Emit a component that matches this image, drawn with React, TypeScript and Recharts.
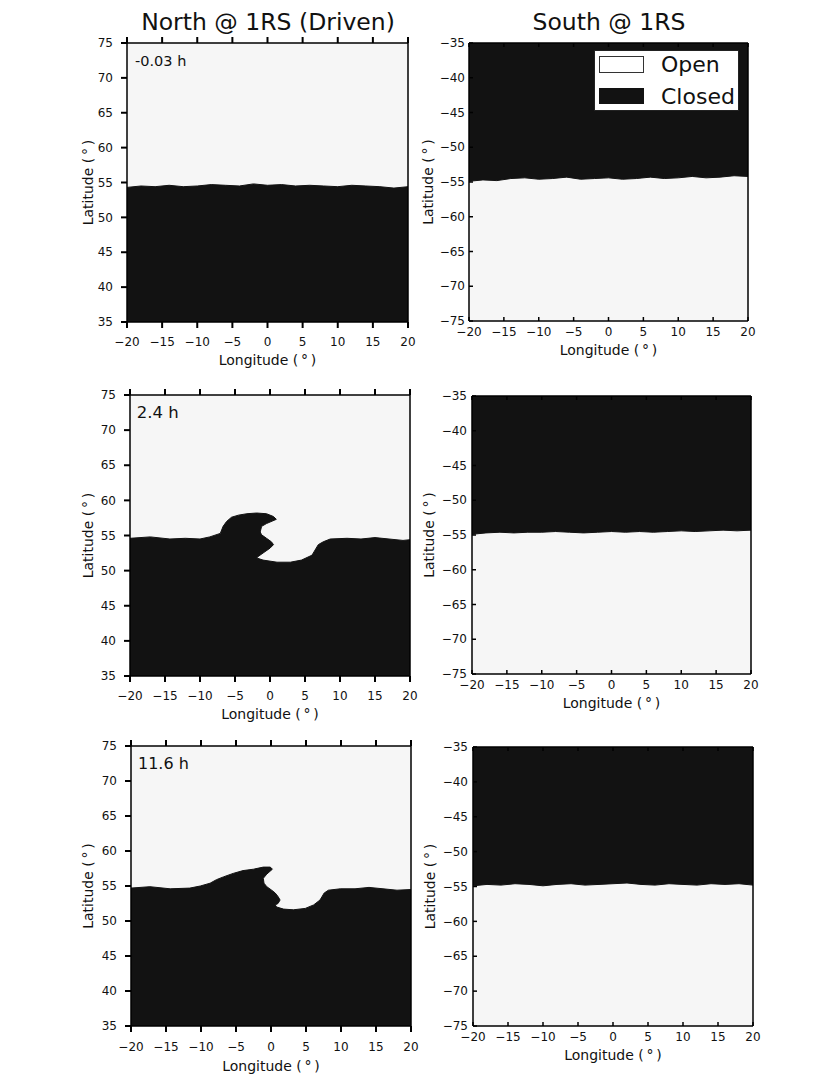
import React from 'react';
import { ComposedChart, Area, XAxis, YAxis, CartesianGrid, ReferenceArea, Legend } from 'recharts';

const FONT = '"DejaVu Sans", Verdana, sans-serif';
const DARK = '#121212';
const LIGHT = '#f6f6f6';
const INK = '#111111';
const SPINE_W = 1.5;
const TICK_W = 2;

// ---- text ----
const columnTitles = ['North @ 1RS (Driven)', 'South @ 1RS'];
const timeLabels = ['-0.03 h', '2.4 h', '11.6 h'];
const legendLabels = ['Open', 'Closed'];
const lonLabel = 'Longitude (\u2009°\u2009)';
const latLabel = 'Latitude (\u2009°\u2009)';

// ---- ticks ----
const lonTicks = [-20, -15, -10, -5, 0, 5, 10, 15, 20];
const northLatTicks = [35, 40, 45, 50, 55, 60, 65, 70, 75];
const southLatTicks = [-75, -70, -65, -60, -55, -50, -45, -40, -35];

// ---- boundaries (open/closed) ----
const flatLon = [-20, -18, -16, -14, -12, -10, -8, -6, -4, -2, 0, 2, 4, 6, 8, 10, 12, 14, 16, 18, 20];

const north1Lon = flatLon;
const north1Lat = [54.3, 54.5, 54.4, 54.6, 54.4, 54.5, 54.7, 54.6, 54.5, 54.8, 54.6, 54.7, 54.5, 54.6, 54.5, 54.4, 54.6, 54.5, 54.4, 54.2, 54.4];

const south1Lon = flatLon;
const south1Lat = [-54.9, -54.7, -54.8, -54.5, -54.4, -54.6, -54.5, -54.3, -54.6, -54.5, -54.4, -54.6, -54.5, -54.3, -54.5, -54.4, -54.2, -54.4, -54.3, -54.1, -54.2];

const north2Lon = [-20, -17.1, -14.3, -12.1, -10, -8.6, -7.1, -6.7, -6.2, -5.5, -4.5, -3.3, -1.9, -0.5, 0.5, 0.9, -0.5, -1.2, -1.4, -1.2, -0.5, 0.2, 0.5, 0, -1.0, -1.7, -1.9, -1.0, 1.0, 2.9, 4.5, 6.0, 6.9, 7.6, 8.6, 11, 13, 15, 17, 19, 20];
const north2Lat = [54.6, 54.8, 54.5, 54.6, 54.5, 54.8, 55.3, 56.3, 57.0, 57.6, 57.9, 58.1, 58.2, 58.1, 57.7, 57.3, 56.7, 56.3, 55.5, 55.1, 54.6, 54.1, 53.7, 53.2, 52.5, 52.0, 51.8, 51.5, 51.2, 51.2, 51.5, 52.2, 53.7, 54.1, 54.5, 54.6, 54.5, 54.7, 54.5, 54.3, 54.4];

const south2Lon = flatLon;
const south2Lat = [-54.9, -54.7, -54.6, -54.7, -54.6, -54.6, -54.5, -54.6, -54.7, -54.6, -54.5, -54.6, -54.5, -54.6, -54.5, -54.4, -54.5, -54.4, -54.3, -54.4, -54.3];

const north3Lon = [-20, -17.3, -14.4, -11.6, -10.1, -8.7, -7.8, -6.8, -5.4, -4.0, -2.5, -1.1, -0.1, 0.2, -0.6, -1.1, -1.0, -0.6, 0.1, 0.6, 1.0, 1.3, 1.0, 0.6, 0.8, 1.8, 3.2, 4.9, 6.1, 7.0, 7.6, 8.2, 9.9, 12, 14, 16, 18, 20];
const north3Lat = [54.7, 54.9, 54.6, 54.7, 55.0, 55.4, 55.9, 56.3, 56.8, 57.2, 57.4, 57.7, 57.7, 57.4, 56.7, 56.1, 55.4, 54.9, 54.4, 54.0, 53.5, 53.0, 52.5, 52.3, 52.0, 51.7, 51.6, 51.8, 52.3, 53.0, 54.0, 54.4, 54.6, 54.6, 54.8, 54.6, 54.4, 54.5];

const south3Lon = flatLon;
const south3Lat = [-54.9, -54.7, -54.8, -54.6, -54.7, -54.9, -54.7, -54.6, -54.8, -54.7, -54.6, -54.5, -54.7, -54.8, -54.6, -54.7, -54.8, -54.6, -54.7, -54.6, -54.8];

const fmt = (v: number) => (v < 0 ? `\u2212${Math.abs(v)}` : `${v}`);

type Side = 'bottom' | 'top' | 'left' | 'right';

// tick renderer: draws the tick mark (outward or inward) and optionally its label.
// Axis is configured with tickSize=0 and tickMargin=0 so (x, y) sits on the spine.
const makeTick = (side: Side, len: number, inward: boolean, showLabel: boolean, gap: number, w: number) => (props: any) => {
  const x = Number(props.x);
  const y = Number(props.y);
  const v = props.payload ? props.payload.value : 0;
  let line: any = null;
  let label: any = null;
  if (side === 'bottom' || side === 'top') {
    const outDir = side === 'bottom' ? 1 : -1;
    const dir = inward ? -outDir : outDir;
    line = <line x1={x} y1={y} x2={x} y2={y + dir * len} stroke="#000" strokeWidth={w} />;
    if (showLabel) {
      label = (
        <text x={x} y={y + outDir * gap} dy="0.71em" textAnchor="middle" fontFamily={FONT} fontSize={12} fill={INK}>
          {fmt(v)}
        </text>
      );
    }
  } else {
    const outDir = side === 'left' ? -1 : 1;
    const dir = inward ? -outDir : outDir;
    line = <line x1={x} y1={y} x2={x + dir * len} y2={y} stroke="#000" strokeWidth={w} />;
    if (showLabel) {
      label = (
        <text x={x + outDir * gap} y={y} dy="0.35em" textAnchor={side === 'left' ? 'end' : 'start'} fontFamily={FONT} fontSize={12} fill={INK}>
          {fmt(v)}
        </text>
      );
    }
  }
  return (
    <g>
      {line}
      {label}
    </g>
  );
};

const LatLabel = (props: any) => {
  const vb = props.viewBox || { x: 0, y: 10, width: 60, height: 280 };
  const cx = props.bx;
  const cy = vb.y + vb.height / 2;
  return (
    <text x={cx} y={cy} transform={`rotate(-90 ${cx} ${cy})`} textAnchor="middle" fontFamily={FONT} fontSize={14} fill={INK}>
      {latLabel}
    </text>
  );
};

const LonLabel = (props: any) => {
  const vb = props.viewBox || { x: 60, y: 290, width: 280, height: 55 };
  return (
    <text x={vb.x + vb.width / 2} y={vb.y + props.ddy} textAnchor="middle" fontFamily={FONT} fontSize={14} fill={INK}>
      {lonLabel}
    </text>
  );
};

const TimeLabel = (props: any) => {
  const vb = props.viewBox || { x: 60, y: 10 };
  return (
    <text x={vb.x + props.ddx} y={vb.y + props.ddy} fontFamily={FONT} fontSize={props.fs} fill={INK}>
      {props.t}
    </text>
  );
};

const LegendBox = () => (
  <svg width={145} height={61} style={{ display: 'block' }}>
    <rect x={0.5} y={0.5} width={144} height={60} fill="#ffffff" stroke="#222" strokeWidth={1} />
    <rect x={5.5} y={6.5} width={44} height={16} fill="#ffffff" stroke="#333" strokeWidth={1} />
    <rect x={5} y={38} width={45} height={16} fill={DARK} />
    <text x={67} y={22} fontFamily={FONT} fontSize={22} fill={INK}>{legendLabels[0]}</text>
    <text x={67} y={54} fontFamily={FONT} fontSize={22} fill={INK}>{legendLabels[1]}</text>
  </svg>
);

type PanelProps = {
  lon: number[];
  lat: number[];
  north: boolean;
  px: number;
  py: number;
  pw: number;
  ph: number;
  latX: number;
  lonDy: number;
  xGap: number;
  yGap: number;
  time?: string;
  timeFs?: number;
  timeDx?: number;
  timeDy?: number;
  legend?: boolean;
};

const Panel = (p: PanelProps) => {
  const data = p.lon.map((x, i) => ({ lon: x, lat: p.lat[i] }));
  const yDomain = p.north ? [35, 75] : [-75, -35];
  const yTicks = p.north ? northLatTicks : southLatTicks;
  const left = p.px - 60;
  const top = p.py - 10;
  const len = p.north ? 6 : 4;
  const tw = p.north ? TICK_W : 1.5;
  const inward = !p.north;
  const common = { tickSize: 0, tickMargin: 0, tickLine: false, axisLine: { stroke: '#000', strokeWidth: SPINE_W }, interval: 0 as const, stroke: '#000' };
  return (
    <div style={{ position: 'absolute', left, top }}>
      <ComposedChart width={p.pw + 70} height={p.ph + 65} data={data} margin={{ top: 0, right: 0, bottom: 0, left: 0 }}>
        <CartesianGrid xAxisId="b" yAxisId="l" horizontal={false} vertical={false} fill={LIGHT} stroke="none" />
        <Area
          xAxisId="b"
          yAxisId="l"
          dataKey="lat"
          type="linear"
          baseValue={p.north ? 35 : -35}
          fill={DARK}
          fillOpacity={1}
          stroke={DARK}
          strokeWidth={1}
          dot={false}
          activeDot={false}
          isAnimationActive={false}
        />
        <XAxis
          xAxisId="b"
          dataKey="lon"
          type="number"
          domain={[-20, 20]}
          ticks={lonTicks}
          orientation="bottom"
          height={55}
          {...common}
          tick={makeTick('bottom', len, inward, true, p.xGap, tw)}
          label={<LonLabel ddy={p.lonDy} />}
        />
        <XAxis
          xAxisId="t"
          dataKey="lon"
          type="number"
          domain={[-20, 20]}
          ticks={lonTicks}
          orientation="top"
          height={10}
          {...common}
          tick={makeTick('top', len, inward, false, 0, tw)}
        />
        <YAxis
          yAxisId="l"
          type="number"
          domain={yDomain}
          ticks={yTicks}
          orientation="left"
          width={60}
          {...common}
          tick={makeTick('left', len, inward, true, p.yGap, tw)}
          label={<LatLabel bx={p.latX - left} />}
        />
        <YAxis
          yAxisId="r"
          type="number"
          domain={yDomain}
          ticks={yTicks}
          orientation="right"
          width={10}
          {...common}
          tick={makeTick('right', len, inward, false, 0, tw)}
        />
        {p.time && (
          <ReferenceArea
            xAxisId="b"
            yAxisId="l"
            x1={-20}
            x2={20}
            y1={yDomain[0]}
            y2={yDomain[1]}
            fill="none"
            stroke="none"
            label={<TimeLabel t={p.time} fs={p.timeFs} ddx={p.timeDx} ddy={p.timeDy} />}
          />
        )}
        {p.legend && (
          <Legend
            layout="vertical"
            verticalAlign="middle"
            align="center"
            wrapperStyle={{ position: 'absolute', left: 185, top: 17, width: 145, height: 61, margin: 0, padding: 0 }}
            content={() => <LegendBox />}
          />
        )}
      </ComposedChart>
    </div>
  );
};

export default function App() {
  return (
    <div style={{ position: 'absolute', left: 0, top: 0, width: 830, height: 1075, background: '#fff', fontFamily: FONT }}>
      <svg width={830} height={40} style={{ position: 'absolute', left: 0, top: 0 }}>
        <text x={268} y={30} textAnchor="middle" fontFamily={FONT} fontSize={23.5} fill={INK}>{columnTitles[0]}</text>
        <text x={609} y={30} textAnchor="middle" fontFamily={FONT} fontSize={23.5} fill={INK}>{columnTitles[1]}</text>
      </svg>
      <Panel lon={north1Lon} lat={north1Lat} north px={127} py={43} pw={281} ph={279} latX={93} lonDy={43} xGap={15} yGap={14} time={timeLabels[0]} timeFs={14.5} timeDx={8} timeDy={22.7} />
      <Panel lon={south1Lon} lat={south1Lat} north={false} px={469} py={43} pw={279} ph={278} latX={433} lonDy={34} xGap={6} yGap={4} legend />
      <Panel lon={north2Lon} lat={north2Lat} north px={130} py={395} pw={280} ph={281} latX={93} lonDy={43} xGap={15} yGap={14} time={timeLabels[1]} timeFs={16.5} timeDx={6.7} timeDy={23.3} />
      <Panel lon={south2Lon} lat={south2Lat} north={false} px={472} py={396} pw={279} ph={278} latX={434} lonDy={34} xGap={6} yGap={5} />
      <Panel lon={north3Lon} lat={north3Lat} north px={131} py={746} pw={280} ph={280} latX={93} lonDy={45} xGap={16} yGap={14} time={timeLabels[2]} timeFs={16} timeDx={7} timeDy={23} />
      <Panel lon={south3Lon} lat={south3Lat} north={false} px={473} py={747} pw={280} ph={279} latX={435} lonDy={34} xGap={6} yGap={5} />
    </div>
  );
}
